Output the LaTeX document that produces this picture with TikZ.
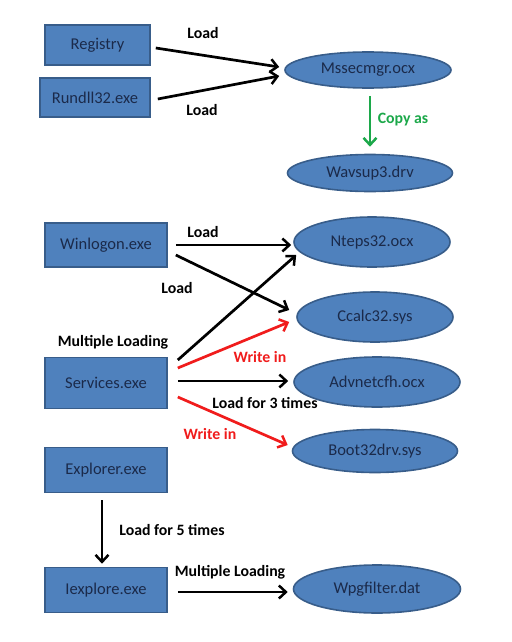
\documentclass[tikz,border=0pt]{standalone}
\usepackage{fontspec}
\setmainfont{Carlito}
\usetikzlibrary{shapes.geometric,arrows.meta}
\definecolor{boxfill}{HTML}{4F81BD}
\definecolor{boxline}{HTML}{385D8A}
\definecolor{boxtext}{HTML}{1B2A4A}
\definecolor{myred}{HTML}{F01C1C}
\definecolor{mygreen}{HTML}{1CA84A}
\tikzset{
  procbox/.style={draw=boxline, line width=1.6pt, fill=boxfill, text=boxtext,
    font=\fontsize{16.5}{19}\selectfont, inner sep=0pt},
  filenode/.style={ellipse, draw=boxline, line width=1.6pt, fill=boxfill, text=boxtext,
    font=\fontsize{16.5}{19}\selectfont, inner sep=0pt},
  lbl/.style={font=\bfseries\fontsize{15.8}{18}\selectfont, inner sep=0pt},
  conn/.style={line width=2.7pt, -{Straight Barb[length=7pt,width=13pt,line width=2.5pt]}},
}
\begin{document}
\begin{tikzpicture}[x=1pt,y=-1pt]
\useasboundingbox (0,0) rectangle (511,642);
% process boxes
\node[procbox, minimum width=105pt, minimum height=40pt] (reg) at (97.5,45) {Registry};
\node[procbox, minimum width=110pt, minimum height=39pt] (run) at (95,97.5) {Rundll32.exe};
\node[procbox, minimum width=122pt, minimum height=44pt] (winl) at (106,245) {Winlogon.exe};
\node[procbox, minimum width=122pt, minimum height=51pt] (serv) at (106,383) {Services.exe};
\node[procbox, minimum width=122pt, minimum height=45pt] (expl) at (106,470) {Explorer.exe};
\node[procbox, minimum width=122pt, minimum height=45pt] (iexp) at (106,590) {Iexplore.exe};
% file ellipses
\node[filenode, minimum width=166pt, minimum height=36pt] (mss) at (368,70) {Mssecmgr.ocx};
\node[filenode, minimum width=165pt, minimum height=37pt] (wav) at (370,173) {Wavsup3.drv};
\node[filenode, minimum width=156pt, minimum height=50pt] (nte) at (372,242) {Nteps32.ocx};
\node[filenode, minimum width=156pt, minimum height=50pt] (cca) at (375,317) {Ccalc32.sys};
\node[filenode, minimum width=166pt, minimum height=50pt] (adv) at (377,382) {Advnetcfh.ocx};
\node[filenode, minimum width=165pt, minimum height=43pt] (boo) at (375,451) {Boot32drv.sys};
\node[filenode, minimum width=167pt, minimum height=48pt] (wpg) at (377,589) {Wpgfilter.dat};
% connectors
\draw[conn] ([xshift=5pt,yshift=-3pt]reg.east) -- ([xshift=-5pt,yshift=3pt]mss.west);
\draw[conn] ([xshift=7pt,yshift=-1.5pt]run.east) -- ([xshift=-5pt,yshift=-6pt]mss.west);
\draw[conn, draw=mygreen] ([xshift=2pt,yshift=-7pt]mss.south) -- ([yshift=7pt]wav.north);
\draw[conn] ([xshift=8pt]winl.east) -- ([xshift=-2pt,yshift=-3pt]nte.west);
\draw[conn] ([xshift=8pt,yshift=-10pt]winl.east) -- ([xshift=-7pt,yshift=7pt]cca.west);
\draw[conn] ([xshift=10pt,yshift=23pt]serv.east) -- ([xshift=3pt,yshift=-13pt]nte.west);
\draw[conn, draw=myred] ([xshift=10pt,yshift=15pt]serv.east) -- ([xshift=-7pt,yshift=-5pt]cca.west);
\draw[conn] ([xshift=10pt,yshift=2pt]serv.east) -- ([xshift=-5pt,yshift=1pt]adv.west);
\draw[conn, draw=myred] ([xshift=10pt,yshift=-14pt]serv.east) -- ([xshift=-4pt,yshift=6pt]boo.west);
\draw[conn] ([xshift=-4pt,yshift=-7pt]expl.south) -- ([xshift=-4pt,yshift=3pt]iexp.north);
\draw[conn] ([xshift=10pt,yshift=-2pt]iexp.east) -- ([xshift=-5pt,yshift=-3pt]wpg.west);
% labels
\node[lbl] (l1) at (203,33) {Load};
\node[lbl] (l2) at (202,110) {Load};
\node[lbl, text=mygreen] (l3) at (403,120) {Copy as};
\node[lbl] (l4) at (203,232) {Load};
\node[lbl] (l5) at (177,288) {Load};
\node[lbl] (l6) at (113,342) {Multiple Loading};
\node[lbl, text=myred] (l7) at (260,357) {Write in};
\node[lbl] (l8) at (265,403) {Load for 3 times};
\node[lbl, text=myred] (l9) at (210,434) {Write in};
\node[lbl] (l10) at (172,530) {Load for 5 times};
\node[lbl] (l11) at (230,572) {Multiple Loading};
\end{tikzpicture}
\end{document}
